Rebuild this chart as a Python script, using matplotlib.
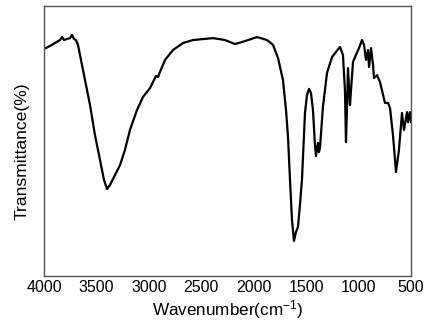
import matplotlib
matplotlib.use("Agg")
import matplotlib.pyplot as plt

wavenumber = [4000, 3943, 3895, 3847, 3828, 3809, 3781, 3752, 3733, 3714, 3695, 3676,
              3657, 3609, 3561, 3514, 3466, 3428, 3399, 3371, 3323, 3275, 3228, 3180,
              3113, 3056, 2989, 2951, 2932, 2913, 2894, 2846, 2770, 2674, 2579, 2388,
              2274, 2178, 2083, 1969, 1873, 1816, 1768, 1721, 1692, 1673, 1654, 1635,
              1616, 1597, 1578, 1559, 1540, 1511, 1492, 1473, 1454, 1435, 1416, 1406,
              1397, 1387, 1378, 1368, 1340, 1301, 1253, 1215, 1177, 1149, 1130, 1120,
              1111, 1101, 1082, 1072, 1053, 1025, 996, 967, 948, 929, 910, 900, 881,
              862, 853, 824, 796, 748, 719, 700, 672, 643, 615, 586, 567, 538, 529,
              510, 500]
transmittance = [84.1, 85.2, 86.3, 87.4, 88.5, 87.4, 87.8, 88.1, 89.3, 87.8, 87.4, 85.6,
                 81.9, 72.6, 63.3, 52.2, 43.0, 35.6, 32.2, 33.7, 37.4, 41.1, 46.7, 54.1,
                 61.5, 66.3, 69.6, 72.6, 74.1, 73.7, 75.6, 80.0, 83.7, 86.3, 87.4, 88.1,
                 87.4, 85.9, 87.0, 88.5, 87.4, 85.6, 80.7, 72.6, 61.5, 51.5, 35.6, 20.7,
                 13.0, 16.3, 18.1, 26.3, 35.6, 60.4, 67.0, 69.3, 67.8, 61.5, 48.5, 44.4,
                 47.4, 49.3, 45.9, 47.4, 62.6, 75.2, 81.1, 83.0, 84.8, 81.9, 68.9, 49.6,
                 61.5, 77.0, 63.3, 68.9, 79.3, 81.9, 84.4, 87.4, 85.6, 80.0, 83.7, 77.4, 84.4,
                 78.1, 73.3, 74.4, 71.9, 64.1, 64.1, 62.2, 52.2, 38.5, 46.7, 60.4, 54.1, 60.7, 57.0,
                 60.7, 57.0]
xticks = [4000, 3500, 3000, 2500, 2000, 1500, 1000, 500]

plt.rcParams['font.family'] = ['Liberation Sans', 'DejaVu Sans']
plt.rcParams['mathtext.fontset'] = 'custom'
plt.rcParams['mathtext.rm'] = 'Liberation Sans'
plt.rcParams['mathtext.it'] = 'Liberation Sans'

fig = plt.figure(figsize=(4.32, 3.22), dpi=100)
ax = fig.add_axes([44/432, 1-276/322, (411-44)/432, (276-6)/322])
ax.plot(wavenumber, transmittance, color='black', linewidth=1.6)
ax.set_xlim(4000, 500)
ax.set_ylim(0, 100)
ax.set_xticks(xticks)
ax.set_xticklabels([str(t) for t in xticks], fontsize=11.5)
ax.set_yticks([])
ax.tick_params(axis='x', length=0, pad=3)
for s in ax.spines.values():
    s.set_color('#555555')
    s.set_linewidth(1.0)
ax.set_xlabel('Wavenumber(cm$^{-1}$)', fontsize=12.3)
ax.xaxis.set_label_coords(0.5, -0.082)
ax.set_ylabel('Transmittance(%)', fontsize=12.6)
ax.yaxis.set_label_coords(-0.04, 0.463)
fig.savefig('out.png', dpi=100)
